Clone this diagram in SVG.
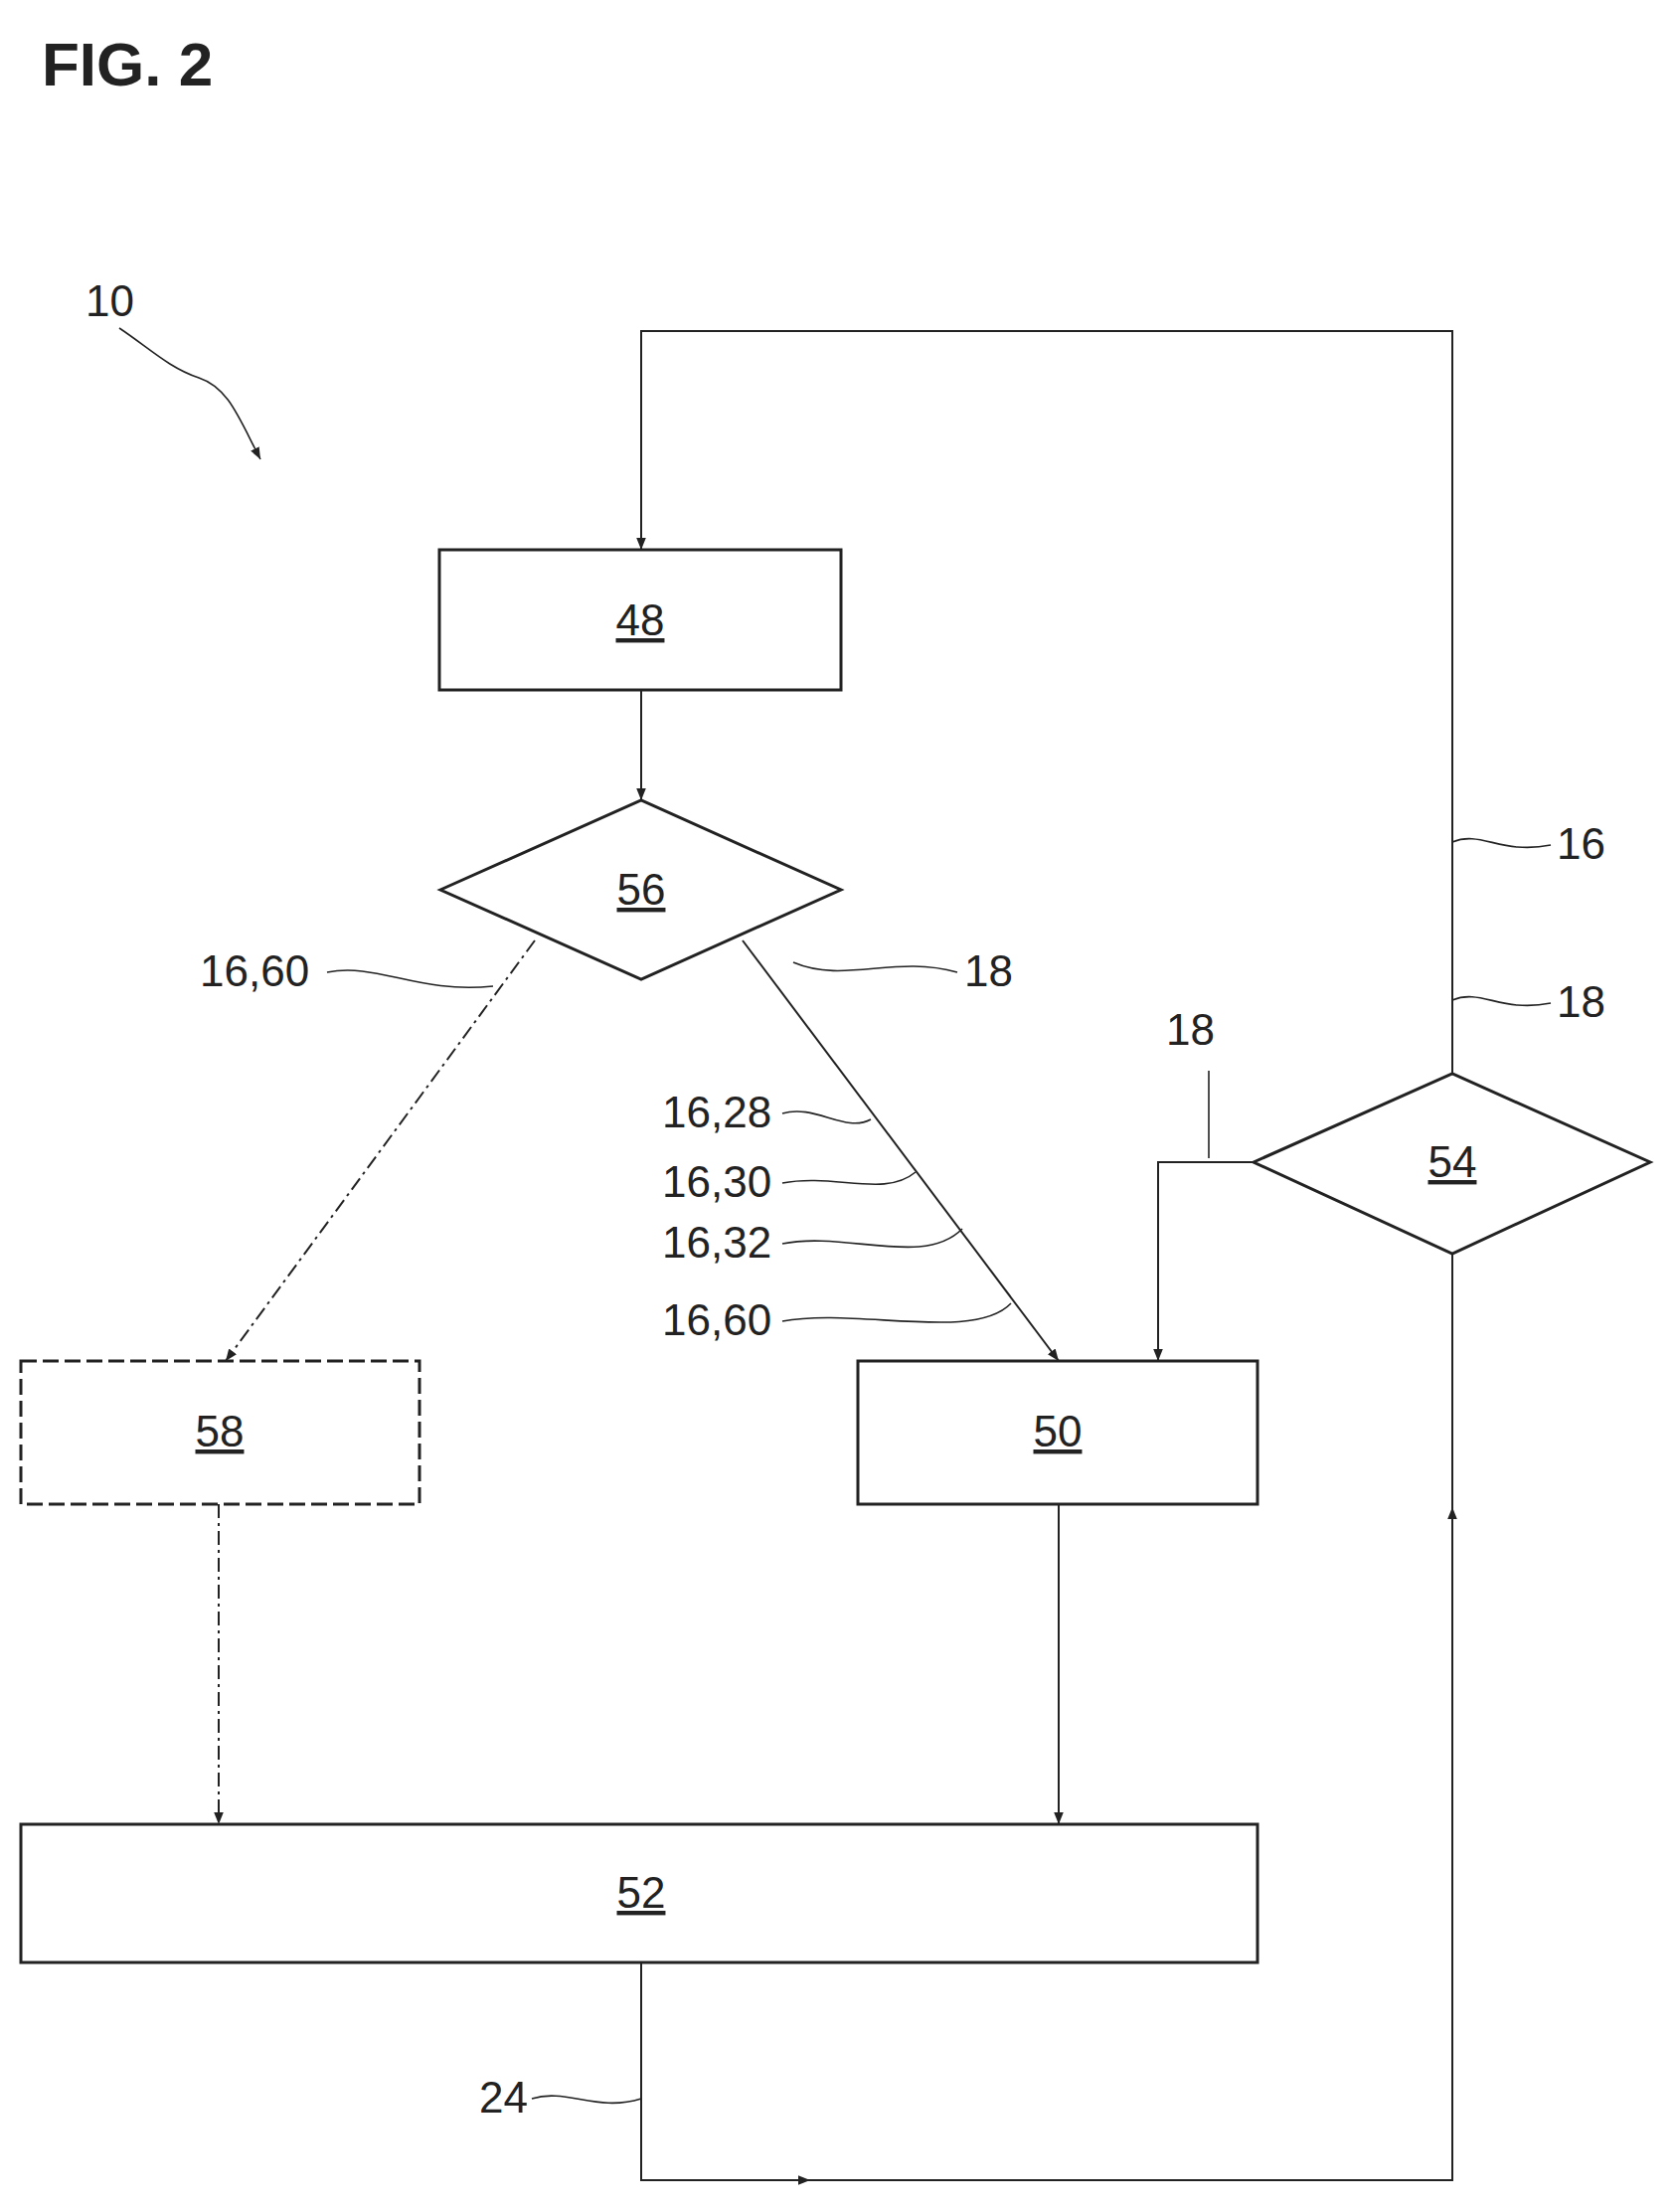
<svg xmlns="http://www.w3.org/2000/svg" width="1686" height="2225" viewBox="0 0 1686 2225">
<defs>
<marker id="a" viewBox="0 0 10 10" refX="10" refY="5" markerWidth="12" markerHeight="12" markerUnits="userSpaceOnUse" orient="auto"><path d="M0,1 L10,5 L0,9 Z" fill="#222"/></marker>
</defs>
<style>
.n{fill:#fff;stroke:#222;stroke-width:3}
.t{font-family:"Liberation Sans",Arial,sans-serif;font-size:44px;fill:#222;text-decoration:underline}
.l{font-family:"Liberation Sans",Arial,sans-serif;font-size:44px;fill:#222}
.c{fill:none;stroke:#222;stroke-width:2}
.s{fill:none;stroke:#222;stroke-width:1.6}
</style>
<rect width="1686" height="2225" fill="#fff"/>
<text x="42" y="86" font-family="Liberation Sans,Arial,sans-serif" font-weight="bold" font-size="62" fill="#222">FIG. 2</text>
<g id="connectors">
<path class="c" d="M1461,1080 V333 H645 V553" marker-end="url(#a)"/>
<path class="c" d="M645,694 V805" marker-end="url(#a)"/>
<path class="c" d="M538,946 L227,1369" stroke-dasharray="14,5,3,5" marker-end="url(#a)"/>
<path class="c" d="M747,946 L1065,1369" marker-end="url(#a)"/>
<path class="c" d="M1261,1169 H1165 V1369" marker-end="url(#a)"/>
<path class="c" d="M220,1513 V1835" stroke-dasharray="14,5,3,5" marker-end="url(#a)"/>
<path class="c" d="M1065,1513 V1835" marker-end="url(#a)"/>
<path class="c" d="M645,1974 V2193 H815" marker-end="url(#a)"/>
<path class="c" d="M815,2193 H1461 V1516" marker-end="url(#a)"/>
<path class="c" d="M1461,1516 V1261"/>
</g>
<g id="n48"><rect class="n" x="442" y="553" width="404" height="141"/><text class="t" x="644" y="639" text-anchor="middle">48</text></g>
<g id="n56"><polygon class="n" points="443,895 645,805 846,895 645,985"/><text class="t" x="645" y="910" text-anchor="middle">56</text></g>
<g id="n58"><rect class="n" x="21" y="1369" width="401" height="144" stroke-dasharray="16,6"/><text class="t" x="221" y="1455" text-anchor="middle">58</text></g>
<g id="n50"><rect class="n" x="863" y="1369" width="402" height="144"/><text class="t" x="1064" y="1455" text-anchor="middle">50</text></g>
<g id="n52"><rect class="n" x="21" y="1835" width="1244" height="139"/><text class="t" x="645" y="1919" text-anchor="middle">52</text></g>
<g id="n54"><polygon class="n" points="1261,1169 1461,1080 1660,1169 1461,1261"/><text class="t" x="1461" y="1184" text-anchor="middle">54</text></g>
<g id="labels">
<text class="l" x="86" y="318">10</text>
<path class="s" d="M120,330 C150,350 170,370 200,380 C230,390 240,420 262,462" marker-end="url(#a)"/>
<text class="l" x="1566" y="864">16</text>
<path class="s" d="M1461,847 C1490,835 1510,860 1560,850"/>
<text class="l" x="1566" y="1023">18</text>
<path class="s" d="M1461,1006 C1490,994 1510,1019 1560,1009"/>
<text class="l" x="1173" y="1051">18</text>
<path class="s" d="M1216,1077 V1165"/>
<text class="l" x="201" y="992">16,60</text>
<path class="s" d="M329,978 C380,968 420,1000 496,992"/>
<text class="l" x="970" y="992">18</text>
<path class="s" d="M798,968 C850,990 900,960 963,978"/>
<text class="l" x="666" y="1134">16,28</text>
<path class="s" d="M787,1120 C820,1110 850,1140 876,1126"/>
<text class="l" x="666" y="1204">16,30</text>
<path class="s" d="M787,1190 C840,1180 890,1205 921,1179"/>
<text class="l" x="666" y="1265">16,32</text>
<path class="s" d="M787,1251 C850,1238 930,1275 968,1236"/>
<text class="l" x="666" y="1343">16,60</text>
<path class="s" d="M787,1329 C860,1315 980,1350 1017,1311"/>
<text class="l" x="482" y="2125">24</text>
<path class="s" d="M535,2111 C570,2100 600,2125 645,2111"/>
</g>
</svg>
